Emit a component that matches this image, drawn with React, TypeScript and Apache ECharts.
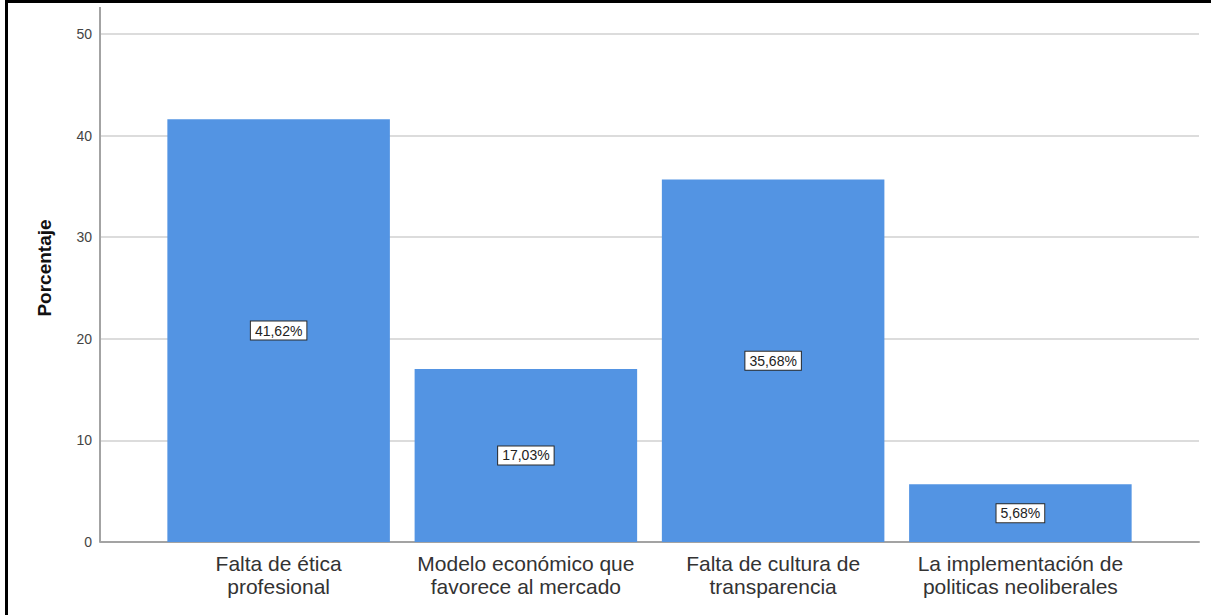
import React, { useEffect, useRef } from "react";
import * as echarts from "echarts";

const categories = [
  "Falta de ética\nprofesional",
  "Modelo económico que\nfavorece al mercado",
  "Falta de cultura de\ntransparencia",
  "La implementación de\npoliticas neoliberales",
];
const percentages = [41.62, 17.03, 35.68, 5.68];
const yMin = 0;
const yMax = 50;
const yInterval = 10;
const yAxisTitle = "Porcentaje";

const FONT = "'Liberation Sans', Arial, sans-serif";

export default function App() {
  const ref = useRef<HTMLDivElement>(null);

  useEffect(() => {
    if (!ref.current) return;
    const chart = echarts.init(ref.current, undefined, { renderer: "svg" });
    const option = {
      animation: false,
      backgroundColor: "#ffffff",
      grid: [
        { left: 100, right: 12, top: 34, bottom: 73 },
        { left: 155, right: 67, top: 34, bottom: 73 },
      ],
      xAxis: [
        {
          gridIndex: 0,
          type: "category",
          data: categories,
          axisLine: { show: true, lineStyle: { color: "#a3a3a3", width: 2 } },
          axisTick: { show: false },
          axisLabel: { show: false },
          splitLine: { show: false },
        },
        {
          gridIndex: 1,
          type: "category",
          data: categories,
          axisLine: { show: false },
          axisTick: { show: false },
          axisLabel: {
            show: true,
            interval: 0,
            margin: 10,
            color: "#333333",
            fontFamily: FONT,
            fontSize: 21,
            lineHeight: 23,
            align: "center",
          },
        },
      ],
      yAxis: [
        {
          gridIndex: 0,
          type: "value",
          min: yMin,
          max: yMax,
          interval: yInterval,
          axisLine: { show: false },
          axisTick: { show: false },
          axisLabel: {
            color: "#444444",
            fontFamily: FONT,
            fontSize: 14,
            margin: 8,
          },
          splitLine: { show: true, lineStyle: { color: "#dcdcdc", width: 2 } },
        },
        {
          gridIndex: 1,
          type: "value",
          min: yMin,
          max: yMax,
          interval: yInterval,
          show: false,
          splitLine: { show: false },
        },
      ],
      series: [
        {
          type: "bar",
          xAxisIndex: 1,
          yAxisIndex: 1,
          data: percentages,
          barCategoryGap: "10%",
          itemStyle: { color: "#5394e3" },
          label: {
            show: true,
            position: "inside",
            formatter: (p: any) =>
              p.value.toFixed(2).replace(".", ",") + "%",
            color: "#222222",
            fontFamily: FONT,
            fontSize: 14,
            lineHeight: 16,
            backgroundColor: "#ffffff",
            borderColor: "#2b2b2b",
            borderWidth: 1,
            padding: [1, 4, 1, 4],
          },
        },
      ],
      graphic: [
        {
          type: "line",
          shape: { x1: 100, y1: 7, x2: 100, y2: 542 },
          style: { stroke: "#a3a3a3", lineWidth: 2 },
          z: 10,
        },
        {
          type: "text",
          x: 44,
          y: 268,
          rotation: Math.PI / 2,
          style: {
            text: yAxisTitle,
            fill: "#111111",
            font: `bold 19px ${FONT}`,
            textAlign: "center",
            textVerticalAlign: "middle",
          },
        },
        {
          type: "rect",
          shape: { x: 5, y: 0, width: 1206, height: 3 },
          style: { fill: "#000000" },
        },
        {
          type: "rect",
          shape: { x: 5, y: 0, width: 3, height: 615 },
          style: { fill: "#000000" },
        },
      ],
    };
    chart.setOption(option);
    return () => chart.dispose();
  }, []);

  return (
    <div
      ref={ref}
      style={{ position: "fixed", left: 0, top: 0, width: 1211, height: 615 }}
    />
  );
}
